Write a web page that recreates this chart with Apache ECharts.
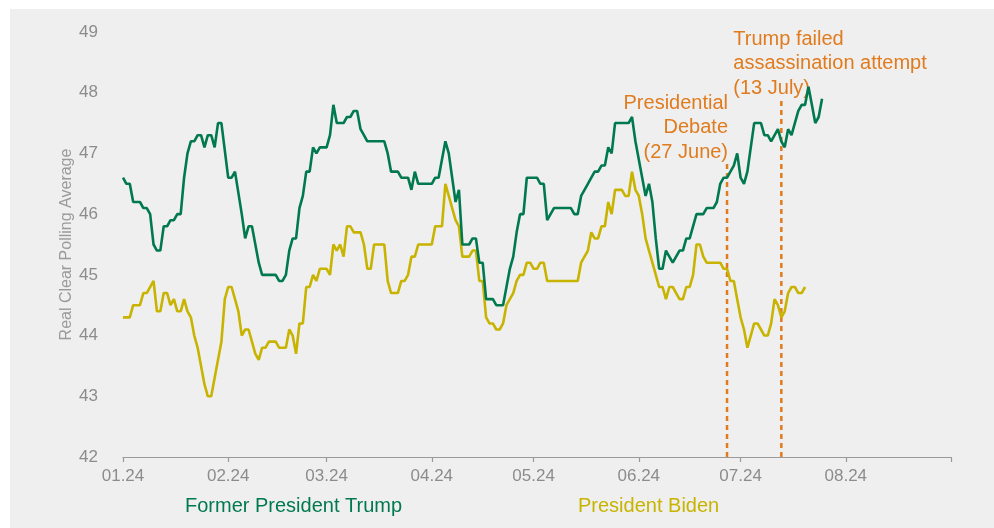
<!DOCTYPE html>
<html>
<head>
<meta charset="utf-8">
<script src="https://cdn.jsdelivr.net/npm/echarts@6/dist/echarts.min.js"></script>
<style>
  html, body { margin: 0; padding: 0; background: #ffffff; }
  #bg { position: absolute; left: 10px; top: 9px; width: 984px; height: 519px; background: #efefef; }
  #chart { position: absolute; left: 0; top: 0; width: 994px; height: 528px; }
</style>
</head>
<body>
<div id="bg"></div>
<div id="chart"></div>
<script>
// ---- data (x = day offset from 1 Jan 2024, y = Real Clear Polling average) ----
const baseDate = '2024-01-01';
const tickDates = ['2024-01-01','2024-02-01','2024-03-01','2024-04-01','2024-05-01','2024-06-01','2024-07-01','2024-08-01','2024-09-01'];
const tickLabels = ['01.24','02.24','03.24','04.24','05.24','06.24','07.24','08.24'];
const yTicks = [42, 43, 44, 45, 46, 47, 48, 49];

const trump = [[0,46.6],[1,46.5],[2,46.5],[3,46.2],[5,46.2],[6,46.1],[7,46.1],[8,46.0],[9,45.5],[10,45.4],[11,45.4],[12,45.8],[13,45.8],[14,45.9],[15,45.9],[16,46.0],[17,46.0],[18,46.6],[19,47.0],[20,47.2],[21,47.2],[22,47.3],[23,47.3],[24,47.1],[25,47.3],[26,47.3],[27,47.1],[28,47.5],[29,47.5],[31,46.6],[32,46.6],[33,46.7],[35,46.0],[36,45.6],[37,45.8],[38,45.8],[39,45.5],[40,45.2],[41,45.0],[45,45.0],[46,44.9],[47,44.9],[48,45.0],[49,45.4],[50,45.6],[51,45.6],[52,46.1],[53,46.3],[54,46.7],[55,46.7],[56,47.1],[57,47.0],[58,47.1],[60,47.1],[61,47.3],[62,47.8],[63,47.5],[65,47.5],[66,47.6],[67,47.6],[68,47.7],[69,47.7],[70,47.4],[71,47.3],[72,47.2],[77,47.2],[78,47.0],[79,46.7],[81,46.7],[82,46.6],[84,46.6],[85,46.4],[86,46.7],[87,46.5],[91,46.5],[92,46.6],[93,46.6],[94,46.9],[95,47.2],[96,47.0],[97,46.6],[98,46.2],[99,46.4],[100,45.5],[102,45.5],[103,45.6],[104,45.6],[105,45.2],[106,45.2],[107,44.6],[109,44.6],[110,44.5],[112,44.5],[113,44.8],[114,45.1],[115,45.3],[116,45.7],[117,46.0],[118,46.0],[119,46.6],[122,46.6],[123,46.5],[124,46.5],[125,45.9],[127,46.1],[132,46.1],[133,46.0],[134,46.0],[135,46.3],[136,46.4],[137,46.5],[138,46.6],[139,46.7],[140,46.7],[141,46.8],[142,46.8],[143,47.1],[144,47.0],[145,47.5],[149,47.5],[150,47.6],[151,47.2],[152,46.9],[153,46.6],[154,46.3],[155,46.5],[156,46.2],[157,45.6],[158,45.1],[159,45.1],[160,45.4],[162,45.2],[164,45.4],[165,45.4],[166,45.6],[167,45.6],[169,46.0],[171,46.0],[172,46.1],[174,46.1],[175,46.2],[176,46.5],[177,46.6],[178,46.6],[180,46.8],[181,47.0],[182,46.6],[183,46.5],[184,46.7],[186,47.5],[188,47.5],[189,47.3],[190,47.3],[191,47.2],[193,47.4],[194,47.2],[195,47.1],[196,47.4],[197,47.3],[199,47.7],[200,47.8],[201,47.8],[202,48.1],[203,47.8],[204,47.5],[205,47.6],[206,47.9]];

const biden = [[0,44.3],[2,44.3],[3,44.5],[5,44.5],[6,44.7],[7,44.7],[9,44.9],[10,44.4],[11,44.4],[12,44.7],[13,44.7],[14,44.5],[15,44.6],[16,44.4],[17,44.4],[18,44.6],[19,44.4],[20,44.3],[21,44.0],[22,43.8],[23,43.5],[24,43.2],[25,43.0],[26,43.0],[27,43.3],[28,43.6],[29,43.9],[30,44.6],[31,44.8],[32,44.8],[33,44.6],[34,44.4],[35,44.0],[36,44.1],[37,44.1],[38,43.9],[39,43.7],[40,43.6],[41,43.8],[42,43.8],[43,43.9],[45,43.9],[46,43.8],[48,43.8],[49,44.1],[50,44.0],[51,43.7],[52,44.2],[53,44.2],[54,44.8],[55,44.8],[56,45.0],[57,44.9],[58,45.1],[60,45.1],[61,45.0],[62,45.5],[63,45.4],[64,45.5],[65,45.3],[66,45.8],[67,45.8],[68,45.7],[70,45.7],[71,45.5],[72,45.1],[73,45.1],[74,45.5],[77,45.5],[78,44.9],[79,44.7],[81,44.7],[82,44.9],[83,44.9],[84,45.0],[85,45.3],[86,45.3],[87,45.5],[91,45.5],[92,45.8],[94,45.8],[95,46.5],[96,46.3],[97,46.1],[98,45.9],[99,45.8],[100,45.3],[102,45.3],[103,45.4],[104,45.4],[105,44.9],[106,44.9],[107,44.3],[108,44.2],[109,44.2],[110,44.1],[111,44.1],[112,44.2],[113,44.5],[115,44.7],[116,44.9],[117,45.0],[118,45.0],[119,45.2],[120,45.2],[121,45.1],[122,45.1],[123,45.2],[124,45.2],[125,44.9],[134,44.9],[135,45.2],[136,45.3],[137,45.4],[138,45.7],[139,45.6],[140,45.6],[141,45.8],[142,45.8],[143,46.2],[144,46.0],[145,46.4],[147,46.4],[148,46.3],[149,46.3],[150,46.7],[151,46.4],[152,46.3],[153,46.0],[154,45.6],[155,45.4],[156,45.2],[157,45.0],[158,44.8],[159,44.8],[160,44.6],[161,44.8],[162,44.8],[163,44.7],[164,44.6],[165,44.6],[166,44.8],[167,44.8],[168,45.0],[169,45.5],[170,45.5],[171,45.3],[172,45.2],[176,45.2],[177,45.1],[178,45.1],[179,44.9],[180,44.9],[181,44.6],[182,44.3],[183,44.1],[184,43.8],[185,44.0],[186,44.2],[187,44.2],[188,44.1],[189,44.0],[190,44.0],[191,44.2],[192,44.6],[193,44.5],[194,44.3],[195,44.4],[196,44.7],[197,44.8],[198,44.8],[199,44.7],[200,44.7],[201,44.8]];

const seriesNames = ['Former President Trump', 'President Biden'];
const eventDates = ['2024-06-27', '2024-07-13'];
const eventTops = [46.84, 47.93];
const eventTexts = ['Presidential\nDebate\n(27 June)', 'Trump failed\nassassination attempt\n(13 July)'];

// ---- helpers ----
const DAY = 86400000;
function toTime(s) { const p = s.split('-').map(Number); return Date.UTC(p[0], p[1] - 1, p[2]); }
function toDay(s) { return Math.round((toTime(s) - toTime(baseDate)) / DAY); }

const GREEN = '#00794f';
const OLIVE = '#c8b400';
const ORANGE = '#e07b1e';
const GREY = '#8c8c8c';
const FONT = '"Liberation Sans", Arial, Helvetica, sans-serif';

const tickDays = tickDates.map(toDay);
const labelDays = tickDays.slice(0, tickLabels.length);

const chart = echarts.init(document.getElementById('chart'), null, { renderer: 'canvas' });

const eventSeries = eventDates.map((d, i) => ({
  type: 'line',
  silent: true,
  symbol: 'circle',
  symbolSize: 1,
  showSymbol: true,
  z: 1,
  itemStyle: { color: 'rgba(0,0,0,0)' },
  lineStyle: { color: ORANGE, width: 2.5, type: [5, 4] },
  data: [
    [toDay(d), yTicks[0]],
    {
      value: [toDay(d), eventTops[i]],
      label: {
        show: true,
        position: 'top',
        align: i === 0 ? 'right' : 'left',
        verticalAlign: 'bottom',
        distance: 4,
        offset: i === 0 ? [1, 6] : [-48, 8],
        formatter: eventTexts[i],
        color: ORANGE,
        fontSize: 20,
        lineHeight: 24.5,
        fontFamily: FONT
      }
    }
  ]
}));

chart.setOption({
  animation: false,
  backgroundColor: 'transparent',
  textStyle: { fontFamily: FONT },
  grid: { left: 123, right: 43, top: 32, bottom: 71, containLabel: false },
  legend: [
    {
      data: [{ name: seriesNames[0], textStyle: { color: GREEN } }],
      left: 180, top: 496, icon: 'none', itemWidth: 0, itemHeight: 0, padding: 0,
      textStyle: { fontSize: 20, fontFamily: FONT }, selectedMode: false
    },
    {
      data: [{ name: seriesNames[1], textStyle: { color: OLIVE } }],
      left: 573, top: 496, icon: 'none', itemWidth: 0, itemHeight: 0, padding: 0,
      textStyle: { fontSize: 20, fontFamily: FONT }, selectedMode: false
    }
  ],
  xAxis: {
    type: 'value',
    min: tickDays[0],
    max: tickDays[tickDays.length - 1],
    axisLine: { lineStyle: { color: '#9a9a9a', width: 1.2 } },
    axisTick: { show: true, length: 5, customValues: tickDays, lineStyle: { color: '#9a9a9a', width: 1.2 } },
    axisLabel: {
      customValues: labelDays,
      color: GREY,
      fontSize: 17,
      margin: 11,
      formatter: v => tickLabels[labelDays.indexOf(v)] || ''
    },
    splitLine: { show: false }
  },
  yAxis: {
    type: 'value',
    min: yTicks[0],
    max: yTicks[yTicks.length - 1],
    interval: 1,
    name: 'Real Clear Polling Average',
    nameLocation: 'middle',
    nameGap: 48,
    nameMoveOverlap: false,
    nameTextStyle: { color: '#9a9a9a', fontSize: 16, fontFamily: FONT },
    axisLine: { show: false },
    axisTick: { show: false },
    splitLine: { show: false },
    axisLabel: { color: GREY, fontSize: 17, margin: 25 }
  },
  series: [
    {
      name: seriesNames[0],
      type: 'line',
      symbol: 'none',
      z: 3,
      lineStyle: { color: GREEN, width: 2.6 },
      itemStyle: { color: GREEN },
      data: trump
    },
    {
      name: seriesNames[1],
      type: 'line',
      symbol: 'none',
      z: 2,
      lineStyle: { color: OLIVE, width: 2.6 },
      itemStyle: { color: OLIVE },
      data: biden
    }
  ].concat(eventSeries)
});
</script>
</body>
</html>
